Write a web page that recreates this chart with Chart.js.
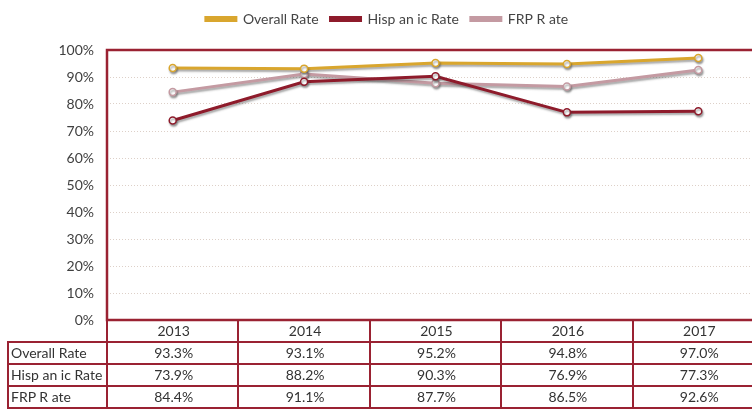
<!DOCTYPE html>
<html><head><meta charset="utf-8">
<script src="https://cdn.jsdelivr.net/npm/chart.js@4/dist/chart.umd.min.js"></script>
<style>
html,body{margin:0;padding:0;background:#fff;overflow:hidden;width:752px;height:410px;}
#wrap{position:relative;width:770px;height:410px;}
canvas{position:absolute;left:0;top:0;}
#tbl{position:absolute;border-collapse:collapse;table-layout:fixed;font-family:Lato,"Open Sans",sans-serif;font-size:14px;color:#333;}
#tbl td{border:2px solid #9a2232;height:20px;padding:0 0 0 2px;text-align:center;white-space:nowrap;overflow:hidden;line-height:20px;}
#tbl td.lab{text-align:left;}
#tbl td.blank{border:none;}
</style></head>
<body><div id="wrap"><canvas id="c" width="770" height="410"></canvas><table id="tbl"></table></div>
<script>
const years = ['2013','2014','2015','2016','2017'];
const overallRate = [93.3, 93.1, 95.2, 94.8, 97.0];
const hispanicRate = [73.9, 88.2, 90.3, 76.9, 77.3];
const frpRate = [84.4, 91.1, 87.7, 86.5, 92.6];
const seriesNames = ['Overall Rate', 'Hisp an ic Rate', 'FRP R ate'];
const tableLabels = ['Overall Rate', 'Hisp an ic Rate', 'FRP R ate'];
const yTicks = [0,10,20,30,40,50,60,70,80,90,100];

const colors = ['#d9a62e', '#8e1b2b', '#c49aa2'];
const seriesData = [overallRate, hispanicRate, frpRate];

const borderPlugin = {
  id: 'plotBorder',
  beforeInit(chart){
    const orig = chart.legend.fit;
    chart.legend.fit = function(){ orig.call(this); this.height += 14; };
  },
  beforeDatasetsDraw(chart){
    const a = chart.chartArea, ctx = chart.ctx;
    ctx.save(); ctx.strokeStyle = '#9a2232'; ctx.lineWidth = 2.5;
    ctx.strokeRect(a.left, a.top, a.right - a.left, a.bottom - a.top);
    ctx.restore();
  },
  beforeDatasetDraw(chart){
    const ctx = chart.ctx; ctx.save();
    ctx.shadowColor = 'rgba(60,60,60,0.45)'; ctx.shadowOffsetX = 1; ctx.shadowOffsetY = 2; ctx.shadowBlur = 2;
  },
  afterDatasetDraw(chart){ chart.ctx.restore(); }
};

const chart = new Chart(document.getElementById('c'), {
  type: 'line',
  data: {
    labels: years,
    datasets: seriesData.map((d, i) => ({
      label: seriesNames[i], data: d, borderColor: colors[i], backgroundColor: colors[i],
      borderWidth: 3, pointRadius: 3.5, pointBackgroundColor: '#fff', pointBorderColor: colors[i],
      pointBorderWidth: 1.5, tension: 0
    }))
  },
  options: {
    responsive: false, animation: false,
    layout: { padding: { left: 10, right: 6, top: 0, bottom: 90 } },
    plugins: {
      tooltip: { enabled: false },
      legend: {
        position: 'top',
        labels: { boxWidth: 30, boxHeight: 3, color: '#444', padding: 12,
          font: { family: 'Lato, "Open Sans", sans-serif', size: 14 } }
      }
    },
    scales: {
      x: { display: false, offset: true },
      y: {
        min: 0, max: 100,
        afterBuildTicks: s => { s.ticks = yTicks.map(v => ({ value: v })); },
        afterFit: s => { s.width = 97; },
        border: { display: false, dash: [1, 2] },
        grid: { color: '#ddd0c8', lineWidth: 1, drawTicks: false },
        ticks: { padding: 13, color: '#404040', callback: v => v + '%',
          font: { family: 'Lato, "Open Sans", sans-serif', size: 14 } }
      }
    }
  },
  plugins: [borderPlugin]
});

// build data table aligned with the chart's x scale
const a = chart.chartArea;
const colW = (a.right - a.left) / years.length;
const tbl = document.getElementById('tbl');
tbl.style.left = (8 - 1) + 'px';
tbl.style.top = (a.bottom - 1) + 'px';
let cg = '<colgroup><col style="width:' + (a.left - 8) + 'px">';
years.forEach(() => cg += '<col style="width:' + colW + 'px">');
cg += '</colgroup>';
let html = cg + '<tr><td class="blank"></td>' + years.map(y => '<td>' + y + '</td>').join('') + '</tr>';
seriesData.forEach((d, i) => {
  html += '<tr><td class="lab">' + tableLabels[i] + '</td>' + d.map(v => '<td>' + v.toFixed(1) + '%</td>').join('') + '</tr>';
});
tbl.innerHTML = html;
tbl.style.width = (a.right - 8) + 'px';
</script></body></html>
